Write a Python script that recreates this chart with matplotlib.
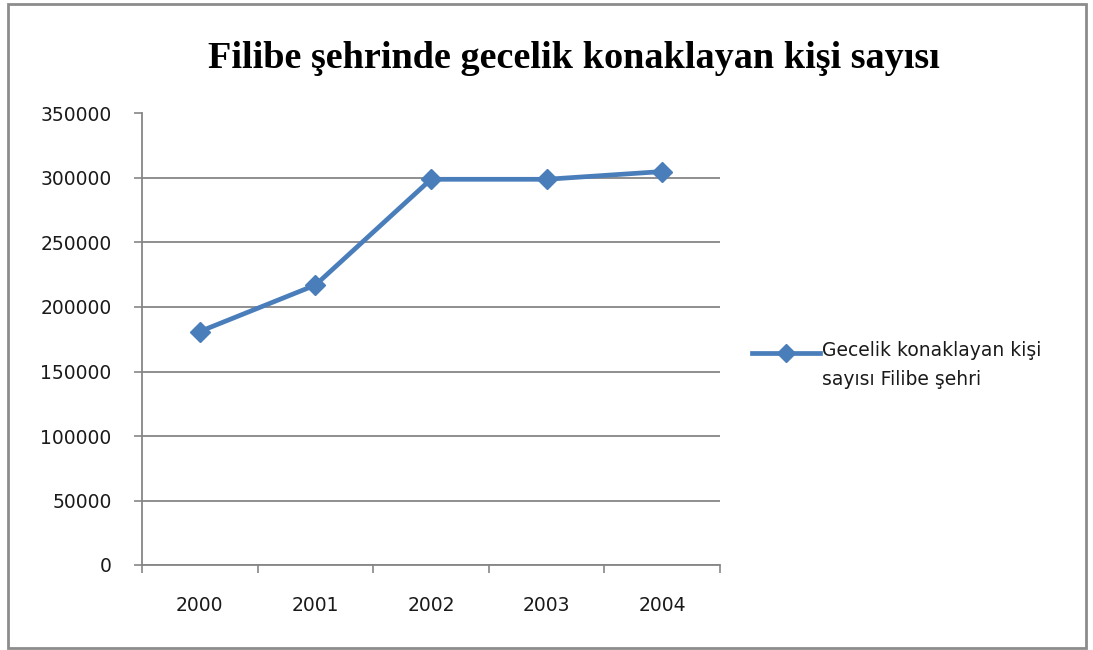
import matplotlib
matplotlib.use("Agg")
import matplotlib.pyplot as plt
from matplotlib.lines import Line2D
from matplotlib.patches import Rectangle

years = ["2000", "2001", "2002", "2003", "2004"]
values = [181000, 217000, 299000, 299000, 305000]
yticks = [0, 50000, 100000, 150000, 200000, 250000, 300000, 350000]
title = "Filibe şehrinde gecelik konaklayan kişi sayısı"
series_label = "Gecelik konaklayan kişi\nsayısı Filibe şehri"

W, H = 1093, 650
fig = plt.figure(figsize=(W / 100, H / 100), dpi=100)
fig.patch.set_facecolor("white")

ax = fig.add_axes([142 / W, 1 - 565 / H, (720 - 142) / W, (565 - 113.5) / H])
color = "#4a7ebb"
x = list(range(len(years)))
ax.plot(x, values, color=color, lw=3.4, marker="D", markersize=10,
        markerfacecolor=color, markeredgecolor=color, solid_joinstyle="round")

ax.set_xlim(-0.5, len(years) - 0.5)
ax.set_ylim(0, 350000)
ax.set_yticks(yticks)
ax.set_yticklabels([str(v) for v in yticks])
ax.set_xticks(x)
ax.set_xticklabels(years)
ax.set_xticks([i - 0.5 for i in range(len(years) + 1)], minor=True)

grid_c = "#868686"
ax.grid(axis="y", color=grid_c, lw=1.3)
ax.set_axisbelow(True)
for s in ["top", "right"]:
    ax.spines[s].set_visible(False)
for s in ["left", "bottom"]:
    ax.spines[s].set_color(grid_c)
    ax.spines[s].set_linewidth(1.3)

tick_family = ["DejaVu Sans"]
tick_size = 13.5
ax.tick_params(axis="y", which="major", length=6, color=grid_c, width=1.2,
               pad=16, labelcolor="#1a1a1a")
ax.tick_params(axis="x", which="major", length=0, pad=22, labelcolor="#1a1a1a")
ax.tick_params(axis="x", which="minor", length=6, color=grid_c, width=1.2)
for lab in ax.get_xticklabels() + ax.get_yticklabels():
    lab.set_fontfamily(tick_family)
    lab.set_fontsize(tick_size)

fig.text(574 / W, 1 - 58 / H, title, ha="center", va="center",
         fontsize=27.5, fontweight="bold", family=["Liberation Serif", "DejaVu Serif"])

# legend (drawn manually so the handle sits beside the first line)
ly = 1 - 353 / H
fig.add_artist(Line2D([752 / W, 820 / W], [ly, ly], transform=fig.transFigure,
                      color=color, lw=3.4))
fig.add_artist(Line2D([786 / W], [ly], transform=fig.transFigure,
                      color=color, marker="D", markersize=9, lw=0))
fig.text(822 / W, ly + 12 / H, series_label, ha="left", va="top",
         fontsize=13.5, family=tick_family, color="#1a1a1a",
         linespacing=1.65)

fig.add_artist(Rectangle((8 / W, 2 / H), (1086 - 8) / W, (646 - 2) / H,
                         transform=fig.transFigure, fill=False,
                         edgecolor="#8c8c8c", lw=2))

fig.savefig("out.png", dpi=100, facecolor="white")
